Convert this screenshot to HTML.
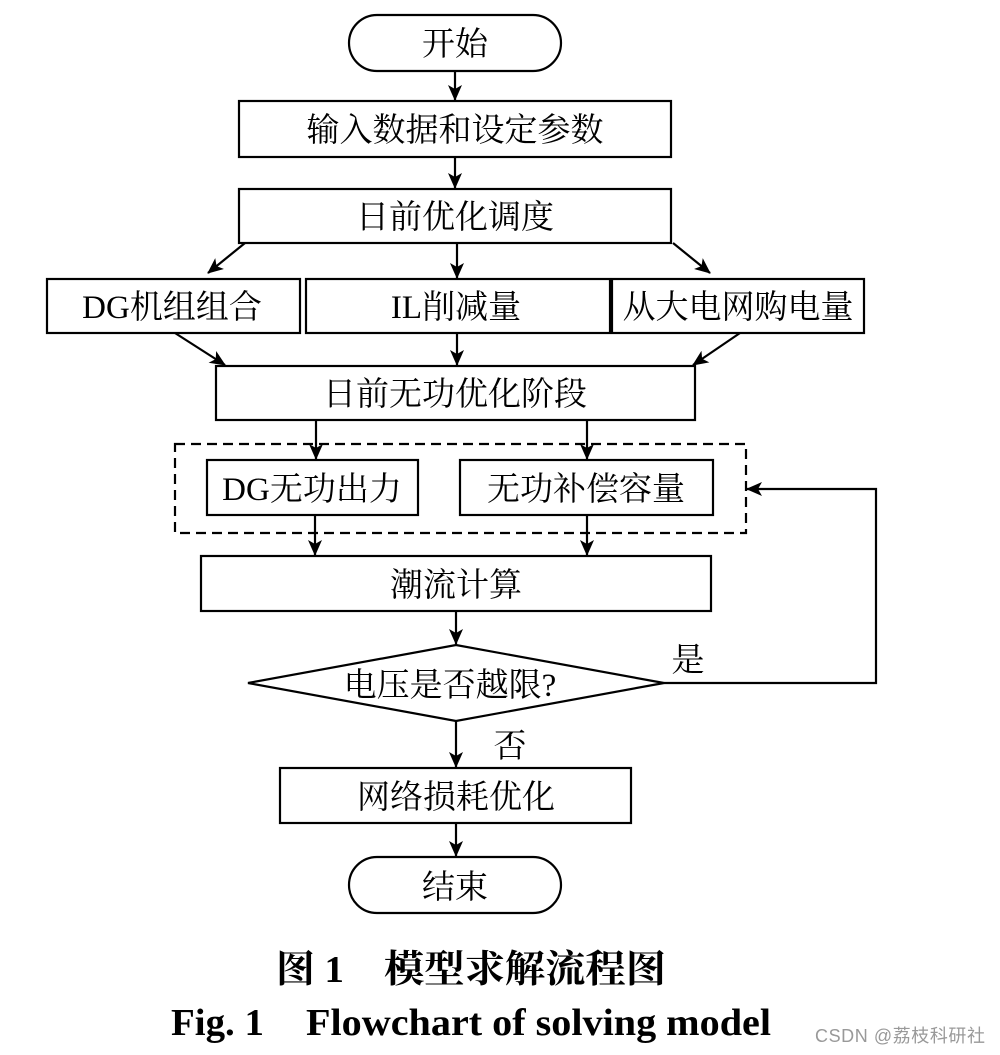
<!DOCTYPE html>
<html><head><meta charset="utf-8"><style>
html,body{margin:0;padding:0;background:#fff;}
svg{display:block;}
text{font-family:"Liberation Serif","Noto Serif CJK SC",serif;fill:#000;}
</style></head><body>
<svg width="1000" height="1055" viewBox="0 0 1000 1055" xmlns="http://www.w3.org/2000/svg">
<defs><marker id="a" markerWidth="16" markerHeight="14" refX="15" refY="7" orient="auto" markerUnits="userSpaceOnUse"><path d="M0,0 L16,7 L0,14 L4,7 Z" fill="#000"/></marker></defs>
<g fill="none" stroke="#000" stroke-width="2.2">
<rect x="349" y="15" width="212" height="56" rx="28"/>
<rect x="239" y="101" width="432" height="56"/>
<rect x="239" y="189" width="432" height="54"/>
<rect x="47" y="279" width="253" height="54"/>
<rect x="306" y="279" width="304" height="54"/>
<rect x="612" y="279" width="252" height="54"/>
<rect x="216" y="366" width="479" height="54"/>
<rect x="175" y="444" width="571" height="89" stroke-dasharray="10,6"/>
<rect x="207" y="460" width="211" height="55"/>
<rect x="460" y="460" width="253" height="55"/>
<rect x="201" y="556" width="510" height="55"/>
<polygon points="248,683 456,645 664,683 456,721"/>
<rect x="280" y="768" width="351" height="55"/>
<rect x="349" y="857" width="212" height="56" rx="28"/>
<g marker-end="url(#a)">
<line x1="455" y1="71" x2="455" y2="100"/>
<line x1="455" y1="157" x2="455" y2="188"/>
<line x1="245" y1="243" x2="208" y2="273"/>
<line x1="457" y1="243" x2="457" y2="278"/>
<line x1="673" y1="243" x2="710" y2="273"/>
<line x1="175" y1="333" x2="225" y2="365"/>
<line x1="457" y1="333" x2="457" y2="365"/>
<line x1="740" y1="333" x2="693" y2="365"/>
<line x1="316" y1="420" x2="316" y2="459"/>
<line x1="587" y1="420" x2="587" y2="459"/>
<line x1="315" y1="515" x2="315" y2="555"/>
<line x1="587" y1="515" x2="587" y2="555"/>
<line x1="456" y1="611" x2="456" y2="644"/>
<polyline points="664,683 876,683 876,489 747,489"/>
<line x1="456" y1="721" x2="456" y2="767"/>
<line x1="456" y1="823" x2="456" y2="856"/>
</g>
</g>
<g font-size="33" text-anchor="middle">
<text x="455" y="55">开始</text>
<text x="455" y="141">输入数据和设定参数</text>
<text x="455" y="228">日前优化调度</text>
<text x="172" y="318">DG机组组合</text>
<text x="456" y="318">IL削减量</text>
<text x="738" y="318">从大电网购电量</text>
<text x="455" y="405">日前无功优化阶段</text>
<text x="312" y="500">DG无功出力</text>
<text x="586" y="500">无功补偿容量</text>
<text x="456" y="596">潮流计算</text>
<text x="450" y="696">电压是否越限?</text>
<text x="688" y="671">是</text>
<text x="510" y="757">否</text>
<text x="456" y="808">网络损耗优化</text>
<text x="455" y="898">结束</text>
</g>
<g font-size="38" font-weight="bold">
<text x="276" y="982" textLength="68" lengthAdjust="spacingAndGlyphs">图 1</text>
<text x="384" y="982" textLength="282" lengthAdjust="spacingAndGlyphs">模型求解流程图</text>
<text x="171" y="1035" textLength="93" lengthAdjust="spacingAndGlyphs">Fig. 1</text>
<text x="306" y="1035" textLength="465" lengthAdjust="spacingAndGlyphs">Flowchart of solving model</text>
</g>
<text x="815" y="1042" font-size="18" textLength="170" style="font-family:'Liberation Sans','Noto Sans CJK SC',sans-serif;fill:#999">CSDN @荔枝科研社</text>
</svg>
</body></html>
